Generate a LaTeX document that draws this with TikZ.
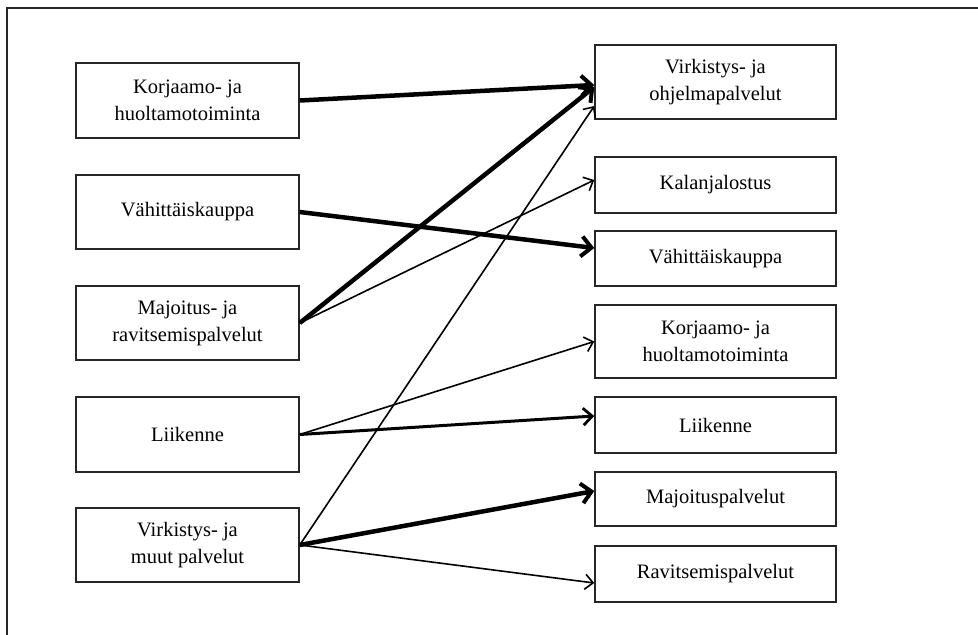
\documentclass[tikz,border=0pt]{standalone}
\usepackage{fontspec}
\setmainfont{Liberation Serif}
\usetikzlibrary{arrows.meta}
\begin{document}
\begin{tikzpicture}[x=1pt,y=-1pt,
  box/.style={draw=black!85, line width=1.5pt, fill=white, inner sep=0pt,
    align=center, font=\fontsize{20.5}{27}\selectfont},
  lbox/.style={box, minimum width=223pt},
  rbox/.style={box, minimum width=241pt},
  thinlink/.style={line width=1.6pt, -{Straight Barb[length=8pt,width=15pt,line width=1.6pt]}},
  midlink/.style={line width=3pt, -{Straight Barb[length=9pt,width=17pt,line width=2.8pt]}},
  thicklink/.style={line width=4.5pt, -{Straight Barb[length=10pt,width=20pt,line width=4pt]}},
]
\useasboundingbox (0,0) rectangle (978,635);
% frame (only its top and left sides fall inside the page)
\draw[line width=2.8pt, draw=black!85] (7,660) -- (7,8) -- (990,8);

% left column
\node[lbox, minimum height=75pt] (L1) at (187.5,100.5) {Korjaamo- ja\\huoltamotoiminta};
\node[lbox, minimum height=74pt] (L2) at (187.5,212) {Vähittäiskauppa};
\node[lbox, minimum height=74pt] (L3) at (187.5,323) {Majoitus- ja\\ravitsemispalvelut};
\node[lbox, minimum height=75pt] (L4) at (187.5,434.5) {Liikenne};
\node[lbox, minimum height=74pt] (L5) at (187.5,545) {Virkistys- ja\\muut palvelut};

% right column
\node[rbox, minimum height=74pt] (R1) at (715.5,82) {Virkistys- ja\\ohjelmapalvelut};
\node[rbox, minimum height=56pt] (R2) at (715.5,185) {Kalanjalostus};
\node[rbox, minimum height=55pt] (R3) at (715.5,258.5) {Vähittäiskauppa};
\node[rbox, minimum height=73pt] (R4) at (715.5,341.5) {Korjaamo- ja\\huoltamotoiminta};
\node[rbox, minimum height=56pt] (R5) at (715.5,425) {Liikenne};
\node[rbox, minimum height=54pt] (R6) at (715.5,499) {Majoituspalvelut};
\node[rbox, minimum height=56pt] (R7) at (715.5,574) {Ravitsemispalvelut};

% links
\draw[thicklink] (L1.east) -- ([yshift=-3pt]R1.west);
\draw[thicklink] (L2.east) -- ([yshift=10.5pt]R3.west);
\draw[thicklink] (L3.east) -- ([yshift=-5pt]R1.west);
\draw[thinlink] (L3.east) -- ([yshift=5pt]R2.west);
\draw[thinlink] (L4.east) -- (R4.west);
\draw[midlink] (L4.east) -- ([yshift=9pt]R5.west);
\draw[thinlink] (L5.east) -- ([yshift=-24pt]R1.west);
\draw[thicklink] (L5.east) -- ([yshift=8pt]R6.west);
\draw[thinlink] (L5.east) -- ([yshift=-9pt]R7.west);
\end{tikzpicture}
\end{document}
